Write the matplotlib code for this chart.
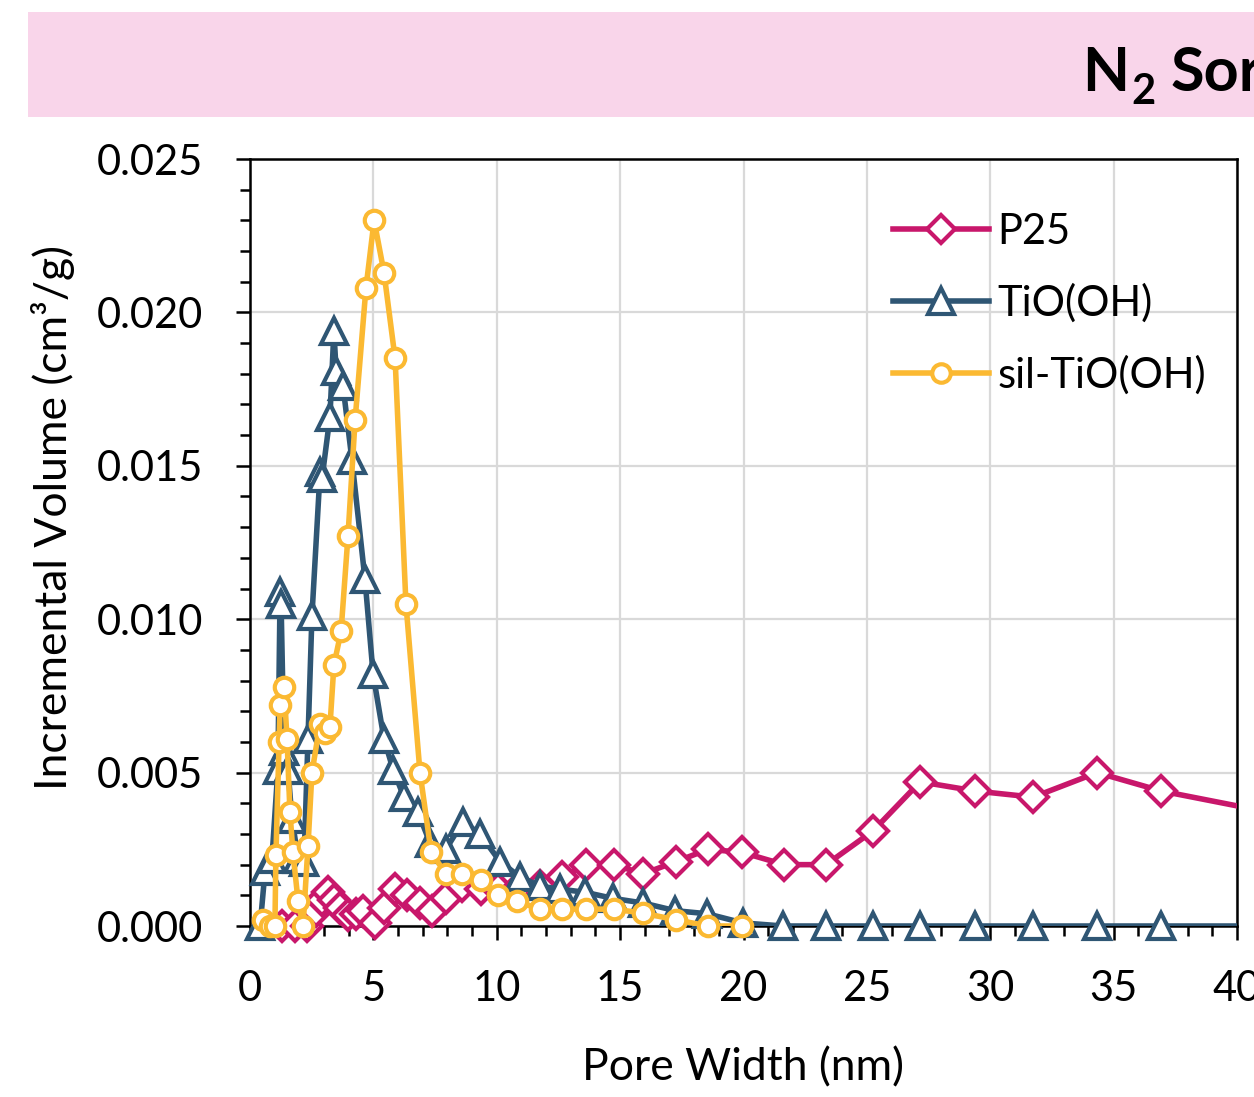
import matplotlib
matplotlib.use("Agg")
import matplotlib.pyplot as plt
from matplotlib.patches import Rectangle
from matplotlib.lines import Line2D
from matplotlib.ticker import MultipleLocator, FormatStrFormatter

plt.rcParams['font.family'] = ['Lato', 'DejaVu Sans']

# ---- data ----
p25_x = [1.30, 1.82, 2.31, 2.68, 2.92, 3.16, 3.40, 3.65, 3.97, 4.30, 4.58, 5.07, 5.43, 5.88,
         6.36, 6.89, 7.38, 7.94, 8.59, 9.36, 10.05, 10.82, 11.75, 12.65, 13.62, 14.75, 15.93,
         17.27, 18.57, 19.94, 21.65, 23.35, 25.25, 27.16, 29.39, 31.74, 34.33, 36.93, 42.0]
p25_y = [0.0, 0.0, 0.0, 0.0005, 0.00085, 0.0011, 0.00085, 0.0006, 0.00035, 0.0004, 0.0005, 0.0001,
         0.0006, 0.0012, 0.0010, 0.00075, 0.0005, 0.0009, 0.0013, 0.0012, 0.0012, 0.0012, 0.0013,
         0.0016, 0.0020, 0.0020, 0.0017, 0.0021, 0.0025, 0.0024, 0.0020, 0.0020, 0.0031, 0.0047,
         0.0044, 0.0042, 0.0050, 0.0044, 0.0036]

tio_x = [0.41, 0.61, 0.89, 1.13, 1.22, 1.26, 1.38, 1.54, 1.70, 1.95, 2.19, 2.35, 2.51, 2.84,
         2.92, 3.24, 3.40, 3.49, 3.77, 4.13, 4.66, 4.99, 5.43, 5.80, 6.24, 6.81, 7.30, 7.94,
         8.63, 9.32, 10.13, 10.94, 11.76, 12.57, 13.58, 14.71, 15.93, 17.23, 18.52, 19.98,
         21.60, 23.35, 25.25, 27.16, 29.39, 31.74, 34.33, 36.93, 42.0]
tio_y = [0.0, 0.0018, 0.0022, 0.0051, 0.0109, 0.0105, 0.0057, 0.0051, 0.0035, 0.0022, 0.0021,
         0.0061, 0.0101, 0.0148, 0.0146, 0.0166, 0.0194, 0.0181, 0.0176, 0.0152, 0.0113, 0.0082,
         0.0061, 0.0051, 0.0042, 0.0037, 0.0027, 0.0025, 0.0034, 0.0030, 0.0021, 0.0016, 0.0013,
         0.0012, 0.0011, 0.0009, 0.00075, 0.0005, 0.0004, 0.0001,
         0.0, 0.0, 0.0, 0.0, 0.0, 0.0, 0.0, 0.0, 0.0]

sil_x = [0.53, 0.81, 1.01, 1.05, 1.18, 1.22, 1.38, 1.50, 1.62, 1.74, 1.95, 2.15, 2.35, 2.51,
         2.84, 3.04, 3.24, 3.40, 3.69, 3.97, 4.26, 4.70, 5.03, 5.43, 5.88, 6.32, 6.89, 7.34,
         7.94, 8.59, 9.36, 10.05, 10.82, 11.75, 12.65, 13.62, 14.75, 15.93, 17.27, 18.57, 19.94]
sil_y = [0.0002, 0.0, 0.0, 0.0023, 0.0060, 0.0072, 0.0078, 0.0061, 0.0037, 0.0024, 0.0008, 0.0,
         0.0026, 0.0050, 0.0066, 0.0063, 0.0065, 0.0085, 0.0096, 0.0127, 0.0165, 0.0208, 0.0230,
         0.0213, 0.0185, 0.0105, 0.0050, 0.0024, 0.0017, 0.0017, 0.0015, 0.0010, 0.0008, 0.00055,
         0.00055, 0.00055, 0.00055, 0.00042, 0.0002, 0.0, 0.0]

labels = ["P25", "TiO(OH)", "sil-TiO(OH)"]
colors = ["#C8176B", "#2F5674", "#FBB932"]
markers = ["D", "^", "o"]
msizes = [15, 19, 14]
XMAX = 40

W, H = 1254, 1097
fig = plt.figure(figsize=(W / 100, H / 100), dpi=100)

# title band
fig.patches.append(Rectangle((28 / W, 1 - 117 / H), 1.0, 105 / H, transform=fig.transFigure,
                             facecolor="#F9D5EA", edgecolor="none", zorder=0))
fig.text(1082 / W, 1 - 91 / H, "N", fontsize=44, fontweight="bold", va="baseline", ha="left")
fig.text(1131 / W, 1 - 104 / H, "2", fontsize=30, fontweight="bold", va="baseline", ha="left")
fig.text(1171 / W, 1 - 91 / H, "Sorption", fontsize=44, fontweight="bold", va="baseline", ha="left")

ax = fig.add_axes([250 / W, 1 - 926 / H, (1237 - 250) / W, (926 - 159) / H])

series = [(p25_x, p25_y), (tio_x, tio_y), (sil_x, sil_y)]
handles = []
LW, MEW = 4.0, 3.0
for i, (xs, ys) in enumerate(series):
    z = 3 + i
    ax.plot(xs, ys, color=colors[i], lw=LW, zorder=z)
    xin = [x for x in xs if x <= XMAX]
    yin = [y for x, y in zip(xs, ys) if x <= XMAX]
    ax.plot(xin, yin, ls="none", marker=markers[i], ms=msizes[i], mfc="white",
            mec=colors[i], mew=MEW, zorder=z + 0.5, clip_on=False)
    handles.append(Line2D([], [], color=colors[i], lw=LW, marker=markers[i],
                          ms=msizes[i] * 0.95, mfc="white", mec=colors[i], mew=MEW))

ax.set_xlim(0, XMAX)
ax.set_ylim(0, 0.025)
ax.xaxis.set_major_locator(MultipleLocator(5))
ax.xaxis.set_minor_locator(MultipleLocator(1))
ax.yaxis.set_major_locator(MultipleLocator(0.005))
ax.yaxis.set_minor_locator(MultipleLocator(0.001))
ax.yaxis.set_major_formatter(FormatStrFormatter("%.3f"))

ax.grid(True, which="major", color="#D9D9D9", lw=1.6, zorder=0)
ax.set_axisbelow(True)
for s in ax.spines.values():
    s.set_linewidth(1.8)
    s.set_color("black")

ax.tick_params(axis="both", which="major", direction="out", length=10, width=1.8,
               labelsize=30)
ax.tick_params(axis="both", which="minor", direction="out", length=7, width=1.8)
ax.tick_params(axis="y", which="major", pad=24)
ax.tick_params(axis="x", which="major", pad=22)

ax.set_xlabel("Pore Width (nm)", fontsize=32, labelpad=28)
ax.set_ylabel("Incremental Volume (cm³/g)", fontsize=32)
ax.yaxis.set_label_coords(-0.177, 0.533)

leg = ax.legend(handles, labels, loc="upper left", bbox_to_anchor=(893 / W, 1 - 213 / H),
                bbox_transform=fig.transFigure, frameon=False, fontsize=30,
                handlelength=2.3, handletextpad=0.2, labelspacing=0.78,
                borderpad=0, borderaxespad=0)

fig.savefig("out.png", dpi=100)
